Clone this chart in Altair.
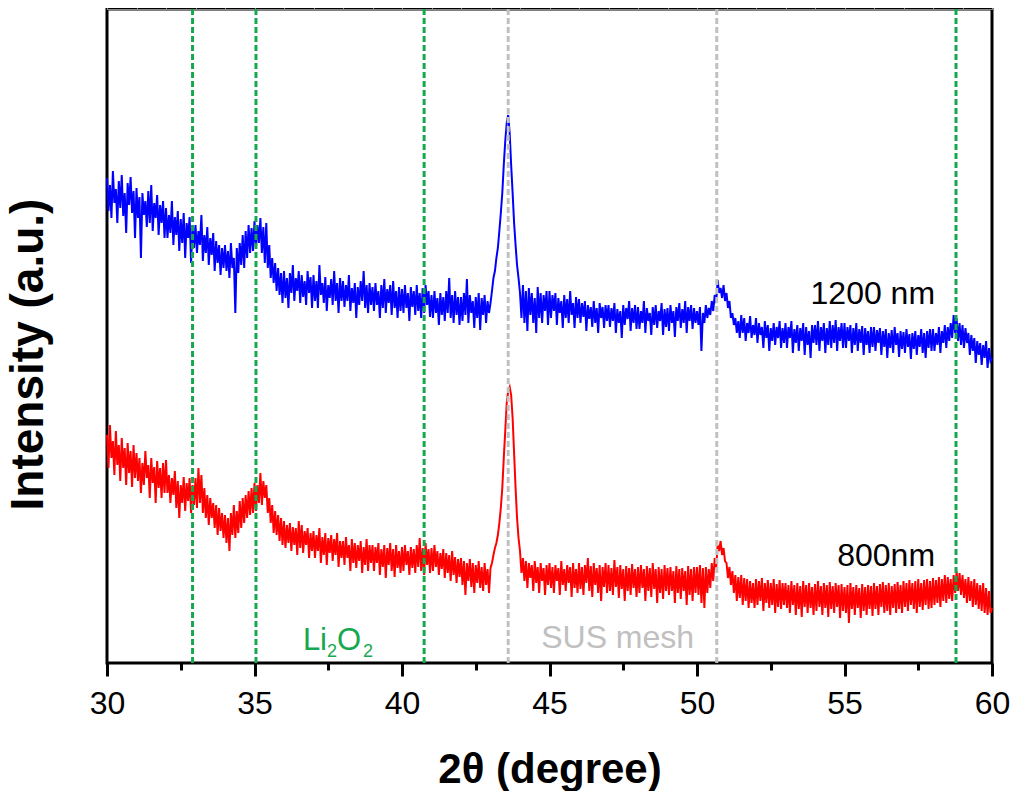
import altair as alt
import pandas as pd

# ---- data (arbitrary intensity units, 0.05 degree steps from 30 to 60) ----
blue_1200 = [
    485, 452, 478, 445, 492, 460, 474, 440, 482, 455, 488, 447, 470, 430, 480, 458, 486, 450, 472, 425,  # 30
    475, 445, 466, 405, 470, 448, 462, 436, 472, 440, 478, 432, 460, 445, 468, 428, 458, 440, 462, 425,  # 31
    455, 425, 448, 430, 462, 418, 446, 428, 452, 412, 444, 420, 450, 405, 440, 425, 446, 400, 438, 415,  # 32
    438, 410, 432, 418, 448, 402, 428, 410, 436, 398, 425, 408, 430, 392, 422, 400, 418, 388, 415, 395,  # 33
    418, 392, 412, 385, 420, 395, 405, 350, 415, 390, 420, 398, 428, 395, 432, 405, 438, 410, 435, 412,  # 34
    442, 415, 438, 420, 445, 410, 436, 400, 440, 395, 418, 385, 405, 380, 400, 372, 395, 368, 390, 360,  # 35
    392, 365, 385, 355, 390, 370, 398, 362, 385, 372, 392, 360, 388, 366, 382, 358, 392, 370, 386, 355,  # 36
    388, 362, 382, 355, 398, 368, 380, 360, 386, 352, 378, 365, 384, 358, 392, 362, 380, 350, 385, 362,  # 37
    382, 356, 378, 362, 388, 352, 375, 360, 380, 345, 376, 358, 382, 362, 392, 355, 378, 350, 380, 358,  # 38
    376, 352, 380, 358, 372, 345, 378, 355, 384, 350, 374, 360, 378, 348, 382, 355, 372, 345, 376, 352,  # 39
    374, 350, 378, 355, 370, 342, 376, 356, 372, 348, 378, 352, 370, 345, 375, 350, 378, 358, 372, 346,  # 40
    368, 345, 372, 350, 365, 338, 370, 348, 366, 342, 372, 350, 385, 345, 368, 340, 372, 348, 366, 338,  # 41
    366, 342, 370, 348, 384, 340, 368, 350, 362, 335, 366, 345, 370, 333, 365, 348, 368, 340, 362, 350,  # 42
    360, 372, 385, 392, 405, 415, 432, 450, 470, 498, 522, 540, 548, 530, 498, 470, 440, 418, 398, 385,  # 43
    370, 345, 378, 340, 372, 332, 375, 348, 370, 340, 365, 330, 376, 345, 370, 340, 368, 352, 372, 338,  # 44
    372, 345, 368, 352, 370, 338, 365, 350, 362, 335, 368, 345, 364, 340, 372, 348, 360, 335, 366, 345,  # 45
    364, 340, 360, 346, 362, 332, 358, 344, 356, 336, 362, 340, 355, 330, 360, 345, 356, 335, 358, 342,  # 46
    358, 336, 355, 342, 360, 330, 354, 340, 352, 325, 358, 338, 355, 344, 362, 332, 355, 340, 358, 334,  # 47
    356, 334, 352, 340, 362, 330, 355, 342, 350, 328, 356, 338, 358, 335, 352, 342, 360, 328, 354, 336,  # 48
    355, 332, 358, 340, 352, 326, 356, 342, 360, 335, 354, 340, 362, 330, 356, 342, 358, 334, 355, 340,  # 49
    352, 338, 356, 312, 350, 340, 358, 345, 355, 348, 362, 352, 368, 360, 383, 370, 375, 365, 378, 362,  # 50
    370, 355, 362, 345, 350, 338, 345, 330, 342, 325, 348, 330, 345, 322, 340, 330, 347, 325, 338, 328,  # 51
    345, 320, 340, 328, 336, 315, 342, 325, 338, 312, 335, 322, 340, 318, 336, 325, 342, 315, 335, 320,  # 52
    340, 315, 336, 325, 342, 310, 334, 320, 338, 312, 335, 322, 340, 308, 336, 318, 332, 305, 338, 320,  # 53
    338, 318, 342, 312, 336, 322, 340, 310, 335, 318, 342, 315, 338, 320, 343, 312, 336, 322, 340, 315,  # 54
    340, 315, 336, 322, 338, 310, 335, 318, 340, 312, 334, 320, 337, 308, 335, 318, 332, 310, 336, 316,  # 55
    336, 312, 333, 320, 335, 308, 332, 316, 334, 305, 330, 315, 333, 310, 336, 318, 330, 306, 332, 314,  # 56
    331, 310, 334, 316, 329, 304, 330, 314, 332, 308, 328, 316, 334, 310, 330, 305, 332, 315, 334, 312,  # 57
    334, 312, 330, 318, 336, 310, 332, 320, 338, 315, 336, 322, 340, 325, 348, 330, 345, 322, 340, 318,  # 58
    338, 315, 335, 320, 330, 308, 328, 312, 325, 300, 322, 308, 320, 298, 318, 305, 322, 295, 315, 302,  # 59
    305,                                                                                                # 60
]

red_800 = [
    228, 195, 238, 205, 222, 188, 232, 198, 218, 182, 225, 195, 215, 178, 220, 190, 212, 176, 218, 185,  # 30
    210, 182, 205, 170, 200, 178, 212, 185, 198, 165, 205, 180, 196, 160, 202, 175, 195, 165, 200, 170,  # 31
    203, 170, 188, 160, 185, 168, 192, 155, 182, 145, 178, 160, 186, 152, 180, 162, 185, 150, 178, 158,  # 32
    185, 155, 195, 160, 188, 150, 175, 145, 168, 138, 165, 145, 160, 135, 158, 128, 155, 132, 150, 125,  # 33
    148, 120, 145, 112, 150, 128, 158, 125, 152, 130, 162, 135, 165, 140, 168, 145, 172, 148, 175, 150,  # 34
    180, 152, 178, 160, 190, 158, 182, 165, 178, 150, 165, 140, 158, 130, 152, 128, 148, 122, 145, 118,  # 35
    142, 115, 138, 120, 140, 112, 136, 118, 135, 108, 142, 115, 138, 110, 132, 118, 135, 105, 130, 112,  # 36
    132, 105, 128, 112, 135, 100, 126, 108, 130, 98, 125, 110, 128, 102, 124, 108, 130, 96, 122, 105,    # 37
    122, 98, 126, 105, 118, 92, 124, 100, 120, 95, 118, 102, 122, 90, 116, 98, 124, 92, 118, 100,        # 38
    118, 92, 116, 100, 120, 88, 114, 96, 118, 85, 115, 98, 120, 92, 114, 86, 118, 95, 112, 90,           # 39
    116, 92, 118, 98, 112, 88, 116, 95, 114, 90, 118, 96, 125, 92, 115, 88, 120, 98, 114, 90,            # 40
    115, 92, 118, 96, 112, 88, 110, 94, 114, 85, 110, 90, 108, 82, 112, 88, 106, 80, 104, 86,            # 41
    105, 78, 102, 68, 100, 82, 104, 76, 100, 70, 98, 80, 102, 75, 96, 72, 100, 78, 94, 70,               # 42
    95, 100, 108, 115, 120, 128, 140, 155, 175, 205, 232, 260, 272, 276, 268, 245, 210, 175, 145, 125,   # 43
    112, 90, 105, 82, 102, 75, 100, 85, 98, 72, 102, 80, 96, 70, 100, 82, 95, 68, 98, 78,                # 44
    100, 75, 96, 70, 98, 82, 95, 68, 102, 78, 94, 72, 98, 80, 96, 66, 100, 75, 94, 70,                   # 45
    100, 74, 96, 68, 98, 80, 105, 72, 97, 66, 100, 78, 95, 70, 98, 62, 96, 76, 100, 70,                  # 46
    98, 72, 95, 68, 103, 76, 96, 65, 98, 74, 94, 62, 97, 72, 95, 68, 99, 75, 94, 66,                     # 47
    96, 70, 98, 75, 94, 62, 97, 72, 95, 66, 100, 74, 94, 60, 96, 70, 94, 64, 98, 72,                     # 48
    95, 68, 96, 72, 92, 60, 97, 70, 94, 64, 95, 72, 92, 58, 97, 68, 94, 62, 96, 70,                      # 49
    96, 68, 98, 60, 95, 55, 96, 70, 94, 75, 100, 82, 105, 95, 118, 112, 122, 108, 115, 102,              # 50
    100, 85, 96, 78, 92, 70, 88, 62, 86, 65, 88, 58, 85, 62, 84, 55, 82, 60, 80, 55,                     # 51
    84, 58, 82, 62, 85, 52, 80, 60, 83, 55, 80, 58, 84, 50, 79, 56, 83, 54, 80, 58,                      # 52
    80, 55, 78, 50, 82, 58, 78, 48, 80, 54, 77, 46, 82, 56, 78, 50, 80, 55, 76, 48,                      # 53
    79, 52, 82, 56, 77, 48, 80, 55, 78, 46, 81, 54, 77, 50, 80, 56, 78, 45, 79, 52,                      # 54
    76, 50, 78, 40, 80, 54, 76, 48, 78, 55, 75, 45, 79, 52, 76, 48, 78, 54, 77, 47,                      # 55
    80, 54, 77, 48, 79, 56, 81, 50, 78, 52, 80, 48, 77, 55, 79, 50, 81, 54, 78, 50,                      # 56
    82, 56, 80, 52, 83, 58, 80, 54, 82, 50, 84, 56, 80, 53, 83, 58, 84, 54, 82, 55,                      # 57
    85, 58, 83, 60, 86, 56, 84, 62, 88, 60, 86, 64, 84, 62, 88, 70, 92, 72, 90, 68,                      # 58
    88, 65, 84, 60, 86, 62, 82, 56, 84, 58, 80, 54, 78, 52, 80, 50, 75, 48, 72, 50,                      # 59
    55,                                                                                                  # 60
]

series_names = ["1200 nm", "800nm"]
series_colors = ["#0000ff", "#ff0000"]

li2o2_positions = [32.9, 35.05, 40.75, 58.78]
sus_positions = [43.6, 50.67]
li2o2_color = "#17a84f"
sus_color = "#c0c0c0"

major_ticks = [30, 35, 40, 45, 50, 55, 60]
minor_ticks = [32.5, 37.5, 42.5, 47.5, 52.5, 57.5]

FONT = "Liberation Sans"
STEP = 0.05

# ---- tables ----
xb = [round(30 + STEP * i, 2) for i in range(len(blue_1200))]
xr = [round(30 + STEP * i, 2) for i in range(len(red_800))]
lines_df = pd.DataFrame({
    "x": xb + xr,
    "y": blue_1200 + red_800,
    "series": [series_names[0]] * len(xb) + [series_names[1]] * len(xr),
})
refs_df = pd.DataFrame({
    "x": li2o2_positions + sus_positions,
    "c": [li2o2_color] * len(li2o2_positions) + [sus_color] * len(sus_positions),
})

xscale = alt.Scale(domain=[30, 60], nice=False, zero=False)
yscale = alt.Scale(domain=[0, 654], nice=False, zero=False)

main_x_axis = alt.Axis(
    values=major_ticks, orient="bottom", grid=False, domain=False,
    ticks=True, tickSize=13, tickWidth=3, tickColor="black",
    labelFont=FONT, labelFontSize=32, labelColor="black",
    labelBaseline="alphabetic", labelPadding=37, labelFlush=False,
    title="2θ (degree)", titleFont=FONT, titleFontSize=42,
    titleFontWeight="bold", titleColor="black",
    titleBaseline="alphabetic", titleY=119,
)
y_axis = alt.Axis(
    labels=False, ticks=False, domain=False, grid=False,
    title="Intensity (a.u.)", titleFont=FONT, titleFontSize=46,
    titleFontWeight="bold", titleColor="black",
    titleAngle=270, titleBaseline="middle", titleX=-79, titleY=345,
)

lines = alt.Chart(lines_df).mark_line(strokeWidth=2).encode(
    x=alt.X("x:Q", scale=xscale, axis=main_x_axis),
    y=alt.Y("y:Q", scale=yscale, axis=y_axis),
    color=alt.Color("series:N", scale=alt.Scale(domain=series_names, range=series_colors), legend=None),
    order="x:Q",
)

minor = alt.Chart(pd.DataFrame({"x": minor_ticks})).mark_point(opacity=0).encode(
    x=alt.X("x:Q", scale=xscale, axis=alt.Axis(
        values=minor_ticks, orient="bottom", labels=False, domain=False, grid=False,
        ticks=True, tickSize=7, tickWidth=3, tickColor="black", title=None)),
    y=alt.value(0),
)

refs = alt.Chart(refs_df).mark_rule(strokeWidth=3, strokeDash=[6, 3]).encode(
    x=alt.X("x:Q", scale=xscale),
    color=alt.Color("c:N", scale=None),
)

def label(text, x, y, size, color, align="left", dx=0, dy=0):
    return alt.Chart(pd.DataFrame({"x": [x], "y": [y], "t": [text]})).mark_text(
        font=FONT, fontSize=size, color=color, align=align, baseline="alphabetic", dx=dx, dy=dy,
    ).encode(x=alt.X("x:Q", scale=xscale), y=alt.Y("y:Q", scale=yscale), text="t:N")

texts = [
    label("1200 nm", 58.07, 359, 32, "black", align="right"),
    label("800nm", 58.07, 97, 32, "black", align="right"),
    label("SUS mesh", 47.31, 15, 32, sus_color, align="center"),
    label("Li", 36.64, 13, 31, li2o2_color),
    label("2", 36.64, 13, 18, li2o2_color, dx=24, dy=7),
    label("O", 36.64, 13, 31, li2o2_color, dx=34),
    label("2", 36.64, 13, 18, li2o2_color, dx=60, dy=7),
]

chart = alt.layer(lines, minor, refs, *texts).resolve_axis(x="independent").properties(
    width=885, height=654,
    autosize=alt.AutoSizeParams(type="none"),
    padding={"left": 99, "top": 1, "right": 22, "bottom": 128},
    background="white",
).configure_view(stroke="black", strokeWidth=3).configure_mark(aria=False).configure_axis(aria=False)

chart.save("out.html", embed_options={"renderer": "svg", "actions": False})
